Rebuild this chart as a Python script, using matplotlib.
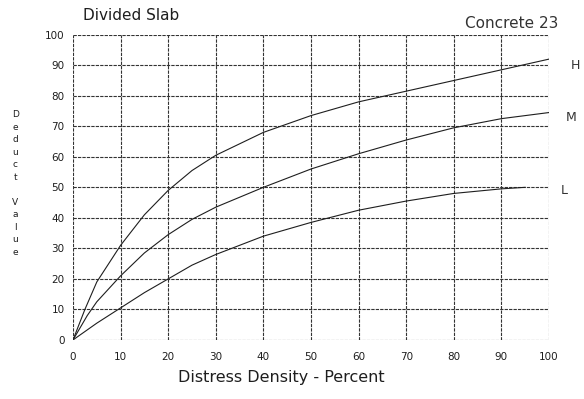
import matplotlib
matplotlib.use("Agg")
import matplotlib.pyplot as plt

# Deduct value curves for divided slab (concrete 23)
density_high = [0, 2.5, 5, 10, 15, 20, 25, 30, 40, 50, 60, 70, 80, 90, 100]
high = [0, 10, 19, 31, 41, 49, 55.5, 60.5, 68, 73.5, 78, 81.5, 85, 88.5, 92]
density_medium = [0, 3, 5, 10, 15, 20, 25, 30, 40, 50, 60, 70, 80, 90, 100]
medium = [0, 8, 12.5, 21, 28.5, 34.5, 39.5, 43.5, 50, 56, 61, 65.5, 69.5,
          72.5, 74.5]
density_low = [0, 5, 10, 15, 20, 25, 30, 40, 50, 60, 70, 80, 90, 95]
low = [0, 5.5, 10.5, 15.5, 20, 24.5, 28, 34, 38.5, 42.5, 45.5, 48, 49.5, 50]

x_ticks = [0, 10, 20, 30, 40, 50, 60, 70, 80, 90, 100]
y_ticks = [0, 10, 20, 30, 40, 50, 60, 70, 80, 90, 100]

ink = '#1e1e1e'
plt.rcParams['font.family'] = ['DejaVu Sans']

fig = plt.figure(figsize=(5.84, 3.99), dpi=100)
ax = fig.add_axes([0.125, 0.148, 0.815, 0.765])

ax.plot(density_high, high, color=ink, lw=0.8)
ax.plot(density_medium, medium, color=ink, lw=0.8)
ax.plot(density_low, low, color=ink, lw=0.8)

ax.set_xlim(0, 100)
ax.set_ylim(0, 100)
ax.set_xticks(x_ticks)
ax.set_yticks(y_ticks)
ax.tick_params(axis='both', length=0, labelsize=7.5, colors=ink)
ax.tick_params(axis='x', pad=9)
ax.tick_params(axis='y', pad=6)
ax.grid(True, color='#333333', lw=0.8, linestyle=(0, (3, 1)))
for s in ax.spines.values():
    s.set_visible(False)

# severity labels at the right-hand end of each curve
ax.text(1.045, high[-1] / 100 - 0.02, 'H', transform=ax.transAxes,
        fontsize=9, va='center', ha='left', color='#333333')
ax.text(1.035, medium[-1] / 100 - 0.015, 'M', transform=ax.transAxes,
        fontsize=9, va='center', ha='left', color='#333333')
ax.text(1.025, low[-1] / 100 - 0.01, 'L', transform=ax.transAxes,
        fontsize=9, va='center', ha='left', color='#333333')

fig.text(0.142, 0.962, 'Divided Slab', fontsize=11, ha='left', va='center',
         color=ink)
fig.text(0.956, 0.942, 'Concrete 23', fontsize=11, ha='right', va='center',
         color='#333333')

fig.text(0.481, 0.053, 'Distress Density - Percent', fontsize=11.5,
         ha='center', va='center', color=ink)
fig.text(0.026, 0.54, '\n'.join('Deduct') + '\n\n' + '\n'.join('Value'),
         fontsize=6.5, ha='center', va='center', linespacing=1.5,
         color=ink)

fig.savefig('out.png', dpi=100)
